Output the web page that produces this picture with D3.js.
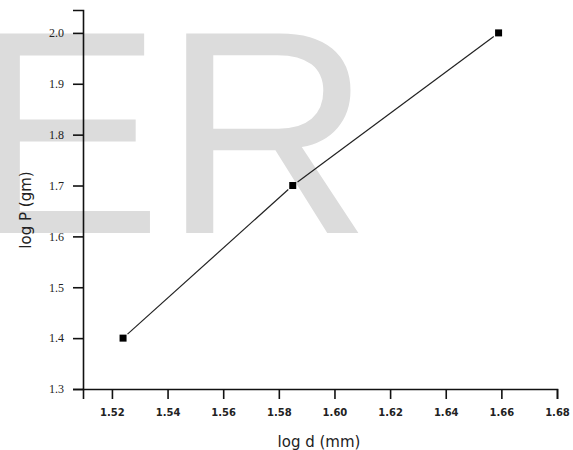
<!DOCTYPE html>
<meta charset="utf-8">
<html>
<head>
<title>log P vs log d</title>
<style>
  body { margin: 0; background: #fff; }
  svg { display: block; }
</style>
</head>
<body>
<script src="https://cdn.jsdelivr.net/npm/d3@7"></script>
<script>

var logD = [1.524, 1.585, 1.659];
var logP = [1.40, 1.70, 2.00];
var xTicks = [1.52, 1.54, 1.56, 1.58, 1.60, 1.62, 1.64, 1.66, 1.68];
var yTicks = [1.3, 1.4, 1.5, 1.6, 1.7, 1.8, 1.9, 2.0];
var xTitle = "log d (mm)";
var yTitle = "log P (gm)";
var watermark = "ER";

var width = 573,
    height = 450;

var x = d3.scaleLinear().domain([1.5096, 1.68]).range([83, 557]);
var y = d3.scaleLinear().domain([1.3, 2.045]).range([389, 10]);

var svg = d3.select("body").append("svg")
    .attr("width", width)
    .attr("height", height);

// big grey watermark behind everything
svg.append("text")
    .attr("x", -31)
    .attr("y", 233)
    .style("font-family", "Liberation Sans, Arial, sans-serif")
    .style("font-size", "290px")
    .style("fill", "#dcdcdc")
    .text(watermark);

// y axis
var yAxis = svg.append("g")
    .attr("transform", "translate(83,0)")
    .call(d3.axisLeft(y).tickValues(yTicks).tickFormat(d3.format(".1f")).tickSizeOuter(0).tickSize(10).tickPadding(9));

// x axis
var xAxis = svg.append("g")
    .attr("transform", "translate(0,389)")
    .call(d3.axisBottom(x).tickValues(xTicks).tickFormat(d3.format(".2f")).tickSizeOuter(0).tickSize(10).tickPadding(10));

svg.selectAll(".domain, .tick line")
    .style("stroke", "#111")
    .style("stroke-width", "1.6px");

yAxis.selectAll("text")
    .style("font-family", "Liberation Serif, Times New Roman, serif")
    .style("font-size", "12px")
    .style("fill", "#222");

xAxis.selectAll("text")
    .style("font-family", "DejaVu Sans, Verdana, sans-serif")
    .style("font-size", "10px")
    .style("font-weight", "bold")
    .style("fill", "#222");

// axis titles
svg.append("text")
    .attr("x", 319)
    .attr("y", 447)
    .style("text-anchor", "middle")
    .style("font-family", "DejaVu Sans, Verdana, sans-serif")
    .style("font-size", "15px")
    .style("fill", "#222")
    .text(xTitle);

svg.append("text")
    .attr("transform", "translate(31,210) rotate(-90)")
    .style("text-anchor", "middle")
    .style("font-family", "DejaVu Sans, Verdana, sans-serif")
    .style("font-size", "15px")
    .style("fill", "#222")
    .text(yTitle);

var points = logD.map(function(d, i) { return {x: d, y: logP[i]}; });

// connecting segments, stopping short of each marker
var gap = 6;
var segs = d3.pairs(points);
svg.append("g")
    .selectAll("line")
    .data(segs)
    .enter().append("line")
    .each(function(s) {
        var x1 = x(s[0].x), y1 = y(s[0].y), x2 = x(s[1].x), y2 = y(s[1].y);
        var len = Math.sqrt((x2 - x1) * (x2 - x1) + (y2 - y1) * (y2 - y1));
        var ux = (x2 - x1) / len, uy = (y2 - y1) / len;
        d3.select(this)
            .attr("x1", x1 + ux * gap).attr("y1", y1 + uy * gap)
            .attr("x2", x2 - ux * gap).attr("y2", y2 - uy * gap);
    })
    .style("stroke", "#222")
    .style("stroke-width", "1.2px");

// square markers
svg.append("g")
    .selectAll("rect")
    .data(points)
    .enter().append("rect")
    .attr("x", function(d) { return x(d.x) - 3.5; })
    .attr("y", function(d) { return y(d.y) - 3.5; })
    .attr("width", 7)
    .attr("height", 7)
    .style("fill", "#000");

</script>
</body>
</html>
